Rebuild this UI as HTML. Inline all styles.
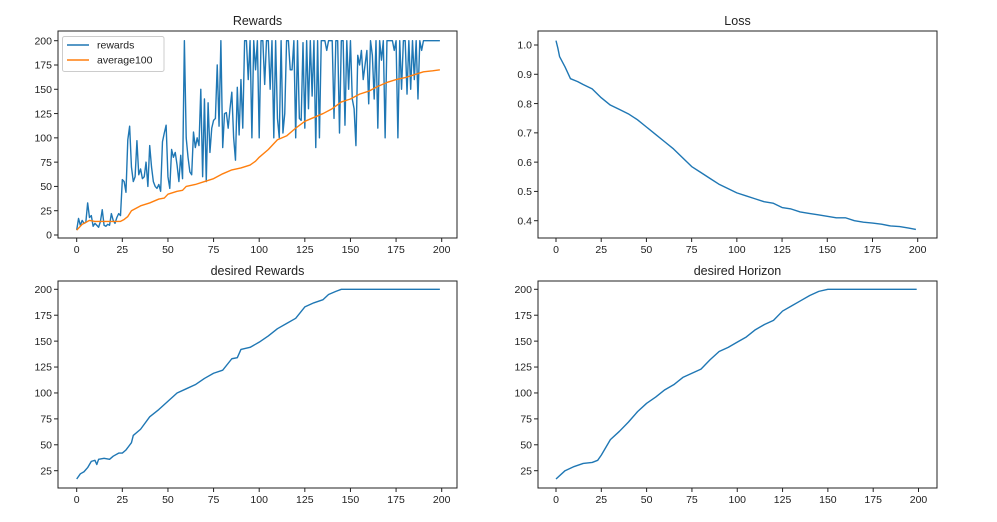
<!DOCTYPE html>
<html><head><meta charset="utf-8">
<style>
html,body{margin:0;padding:0;background:#fff;}
svg{display:block;font-family:"Liberation Sans","DejaVu Sans",sans-serif;}
</style></head>
<body>
<svg id="root" width="997" height="522" viewBox="0 0 997 522" xmlns="http://www.w3.org/2000/svg"></svg>
<script>
// ---- data ----
const rewards = [5,17,10,15,12,13,33,18,20,9,12,10,8,14,26,10,9,11,10,22,15,12,18,22,20,
57,55,44,98,112,70,55,60,97,62,68,58,60,75,50,92,70,55,50,48,52,45,96,105,113,
60,48,88,80,85,72,55,82,58,200,100,80,65,62,106,90,100,92,150,60,140,55,136,85,110,
118,120,175,112,200,90,125,126,110,130,147,100,77,152,103,160,110,200,200,160,200,100,200,170,200,
100,200,200,155,200,200,150,200,100,200,120,100,200,105,125,200,200,170,170,200,100,200,120,118,198,
110,200,130,200,143,200,90,200,100,200,200,200,190,200,200,200,120,200,200,105,200,200,113,200,150,
200,140,130,92,185,175,190,160,175,190,135,200,185,140,200,110,200,180,200,100,200,200,200,200,190,
200,100,200,150,200,200,145,200,150,200,160,200,140,200,190,200,200,200,200,200,200,200,200,200,200];
const avgX = [0,3,5,7,10,15,20,24,26,28,30,35,40,45,48,50,55,58,60,65,70,75,80,85,90,95,98,100,105,110,115,120,125,130,135,140,145,150,155,160,165,170,175,180,185,190,195,199];
const avgY = [5,11,13,15,14,14,14,14,16,19,25,30,33,37,38,42,45,46,50,52,55,58,63,67,69,72,76,80,88,98,102,110,117,121,125,130,137,140,145,148,153,157,160,162,165,168,169,170];
const lossX = [0,1,2,5,8,12,15,20,25,30,35,40,45,50,55,60,65,70,75,80,85,90,95,100,105,110,115,120,125,130,135,140,145,150,155,160,165,170,175,180,185,190,195,199];
const lossY = [1.015,0.99,0.96,0.925,0.885,0.875,0.865,0.85,0.82,0.795,0.78,0.765,0.745,0.72,0.695,0.67,0.645,0.615,0.585,0.565,0.545,0.525,0.51,0.495,0.485,0.475,0.465,0.46,0.445,0.44,0.43,0.425,0.42,0.415,0.41,0.41,0.4,0.395,0.392,0.388,0.382,0.38,0.375,0.37];
const drX = [0,2,4,6,8,10,11,12,15,18,20,23,25,27,30,31,35,40,45,50,55,60,65,70,75,80,85,88,90,95,100,105,110,115,120,125,130,135,138,142,145,199];
const drY = [17,22,24,28,34,35,31,36,37,36,39,42,42,45,52,59,65,77,84,92,100,104,108,114,119,122,133,134,142,144,149,155,162,167,172,183,187,190,195,198,200,200];
const dhX = [0,5,10,15,20,23,25,30,35,40,45,50,55,60,65,70,75,80,85,90,95,100,105,110,115,120,125,130,135,140,145,150,199];
const dhY = [17,25,29,32,33,35,40,55,63,72,82,90,96,103,108,115,119,123,132,140,144,149,154,161,166,170,179,184,189,194,198,200,200];
const xTicks = [0,25,50,75,100,125,150,175,200];
const rewTicks = [0,25,50,75,100,125,150,175,200];
const lossTicks = [0.4,0.5,0.6,0.7,0.8,0.9,1.0];
const desTicks = [25,50,75,100,125,150,175,200];

const NS="http://www.w3.org/2000/svg";
const root=document.getElementById('root');
function mk(tag,attrs,parent){const e=document.createElementNS(NS,tag);for(const k in attrs)e.setAttribute(k,attrs[k]);(parent||root).appendChild(e);return e;}
function lin(d0,d1,r0,r1){return v=>r0+(v-d0)*(r1-r0)/(d1-d0);}

function panel(name,frame,title,xs,ys,yt,fmt){
  const g=mk('g',{});
  
  
  const fr=mk('rect',{x:frame.l,y:frame.t,width:frame.r-frame.l,height:frame.b-frame.t,fill:'none',stroke:'#222','stroke-width':1},g);
  
  
  const t=mk('text',{x:(frame.l+frame.r)/2,y:frame.t-6,'text-anchor':'middle','font-size':12.5,fill:'#222'},g);
  t.textContent=title;
  
  
  xTicks.forEach(v=>{const x=xs(v);
    mk('line',{x1:x,x2:x,y1:frame.b,y2:frame.b+4,stroke:'#222'},g);
    const tx=mk('text',{x:x,y:frame.b+15,'text-anchor':'middle','font-size':10.5,fill:'#222'},g);
    tx.textContent=v;
    
    });
  yt.forEach(v=>{const y=ys(v);
    mk('line',{x1:frame.l-4,x2:frame.l,y1:y,y2:y,stroke:'#222'},g);
    const ty=mk('text',{x:frame.l-6,y:y+3.7,'text-anchor':'end','font-size':10.5,fill:'#222'},g);
    ty.textContent=fmt(v);
    
    });
  return g;
}
function line(g,name,X,Y,xs,ys,color){
  const d=X.map((x,i)=>(i?'L':'M')+xs(x).toFixed(2)+','+ys(Y[i]).toFixed(2)).join('');
  const p=mk('path',{d:d,fill:'none',stroke:color,'stroke-width':1.4,'stroke-linejoin':'round'},g);
  
  
}
const blue='#1f77b4', orange='#ff7f0e';
// Rewards
{const f={l:58,r:457,t:31,b:238};const xs=lin(0,200,76.7,441.7),ys=lin(0,200,235,40.7);
 const g=panel('rewards',f,'Rewards',xs,ys,rewTicks,v=>v);
 line(g,'rewards-line',rewards.map((v,i)=>i),rewards,xs,ys,blue);
 line(g,'average100-line',avgX,avgY,xs,ys,orange);
 const lg=mk('g',{},g);
 
 
 mk('rect',{x:62.5,y:36.5,width:101.5,height:35,fill:'#fff','fill-opacity':0.8,stroke:'#ccc',rx:2},lg);
 mk('line',{x1:67,x2:89,y1:45,y2:45,stroke:blue,'stroke-width':1.5},lg);
 mk('line',{x1:67,x2:89,y1:60,y2:60,stroke:orange,'stroke-width':1.5},lg);
 const a=mk('text',{x:97,y:48.5,'font-size':10.5,fill:'#222'},lg);a.textContent='rewards';
 
 const b=mk('text',{x:97,y:63.5,'font-size':10.5,fill:'#222'},lg);b.textContent='average100';
 
}
// Loss
{const f={l:538,r:937,t:31,b:238};const xs=lin(0,200,556,917.7),ys=lin(0.4,1.0,220.7,45);
 const g=panel('loss',f,'Loss',xs,ys,lossTicks,v=>v.toFixed(1));
 line(g,'loss-line',lossX,lossY,xs,ys,blue);}
// desired Rewards
{const f={l:58,r:457,t:281,b:488};const xs=lin(0,200,76.7,441.7),ys=lin(25,200,470.7,289.3);
 const g=panel('desired-rewards',f,'desired Rewards',xs,ys,desTicks,v=>v);
 line(g,'desired-rewards-line',drX,drY,xs,ys,blue);}
// desired Horizon
{const f={l:538,r:937,t:281,b:488};const xs=lin(0,200,556,918.5),ys=lin(25,200,470.7,289.3);
 const g=panel('desired-horizon',f,'desired Horizon',xs,ys,desTicks,v=>v);
 line(g,'desired-horizon-line',dhX,dhY,xs,ys,blue);}
</script>
</body></html>
